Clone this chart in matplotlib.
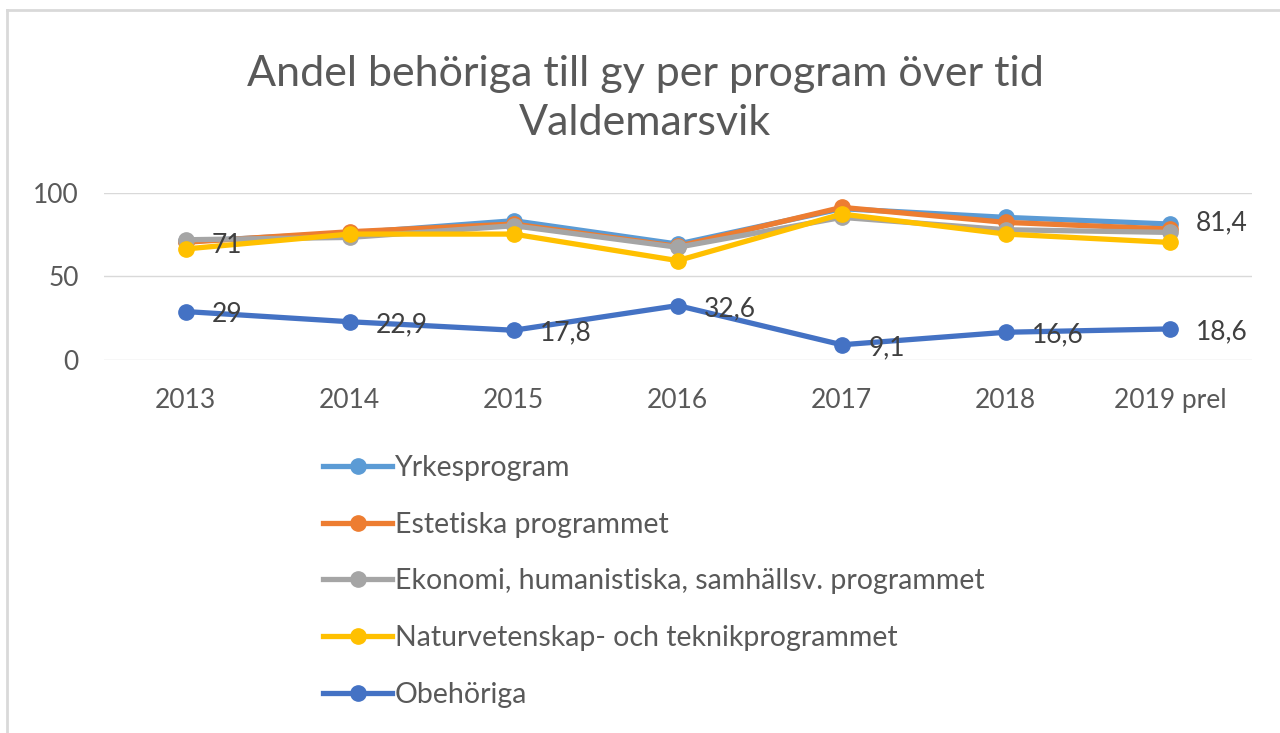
import matplotlib.pyplot as plt
from matplotlib.lines import Line2D

# data
years = ['2013', '2014', '2015', '2016', '2017', '2018', '2019 prel']
yrkes = [71, 76, 83.4, 69.4, 90.6, 85.4, 81.4]
estetiska = [70.5, 76.8, 81.4, 68, 91.4, 82.4, 78.4]
ekonomi = [72, 73.4, 80.4, 67.5, 85.4, 78, 76.4]
natur = [66.5, 75.4, 75.4, 59.5, 87.4, 75.4, 70.4]
obehoriga = [29, 22.9, 17.8, 32.6, 9.1, 16.6, 18.6]

names = ['Yrkesprogram', 'Estetiska programmet',
         'Ekonomi, humanistiska, samhällsv. programmet',
         'Naturvetenskap- och teknikprogrammet', 'Obehöriga']
colors = ['#5B9BD5', '#ED7D31', '#A5A5A5', '#FFC000', '#4472C4']
series = [yrkes, estetiska, ekonomi, natur, obehoriga]

plt.rcParams['font.family'] = ['Lato', 'DejaVu Sans']
txt = '#595959'

fig = plt.figure(figsize=(12.8, 7.33), dpi=100)
ax = fig.add_axes([0.081, 0.5089, 0.897, 0.2278])

x = list(range(len(years)))
for s, c, n in zip(series, colors, names):
    ax.plot(x, s, color=c, lw=3.8, marker='o', ms=11, label=n,
            clip_on=False, solid_joinstyle='round')

def fmt(v):
    return ('%g' % v).replace('.', ',')

# data labels
for i, v in enumerate(obehoriga):
    ax.annotate(fmt(v), (i, v), xytext=(19, -2), textcoords='offset points',
                ha='left', va='center', fontsize=19, color='#404040')
ax.annotate(fmt(yrkes[0]), (0, yrkes[0]), xytext=(19, -3), textcoords='offset points',
            ha='left', va='center', fontsize=19, color='#404040')
ax.annotate(fmt(yrkes[-1]), (6, yrkes[-1]), xytext=(19, 1), textcoords='offset points',
            ha='left', va='center', fontsize=19, color='#404040')

ax.set_xlim(-0.5, 6.5)
ax.set_ylim(0, 100)
ax.set_yticks([0, 50, 100])
ax.set_xticks(x)
ax.set_xticklabels(years)
ax.tick_params(length=0, labelsize=19, labelcolor=txt)
ax.tick_params(axis='x', pad=20)
ax.tick_params(axis='y', pad=18)
ax.grid(axis='y', color='#D9D9D9', lw=1)
ax.set_axisbelow(True)
for sp in ax.spines.values():
    sp.set_visible(False)

fig.text(0.504, 0.866, 'Andel behöriga till gy per program över tid\nValdemarsvik',
         ha='center', va='center', fontsize=31, color=txt, linespacing=1.35)

handles = [Line2D([], [], color=c, lw=3.8, marker='o', ms=11) for c in colors]
leg = fig.legend(handles, names, loc='upper left', bbox_to_anchor=(0.2415, 0.399),
                 frameon=False, fontsize=20.5, labelcolor=txt, handlelength=2.4,
                 handletextpad=0.1, labelspacing=1.08, borderpad=0)

# chart border
fig.add_artist(Line2D([0.0055, 0.0055], [0, 0.986], color='#D9D9D9', lw=2))
fig.add_artist(Line2D([0.0055, 1], [0.986, 0.986], color='#D9D9D9', lw=2))

fig.savefig('out.png', dpi=100)
